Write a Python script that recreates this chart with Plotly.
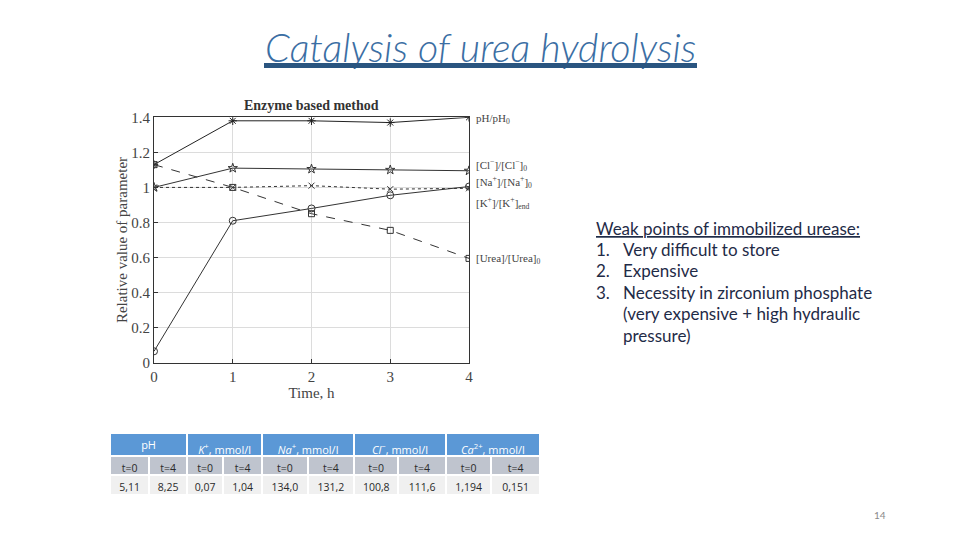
import plotly.graph_objects as go

# ---------------- data ----------------
time_h = [0, 1, 2, 3, 4]
ph_rel = [1.13, 1.38, 1.38, 1.37, 1.40]
cl_rel = [1.00, 1.11, 1.105, 1.10, 1.095]
na_rel = [1.00, 1.00, 1.01, 0.99, 0.995]
k_rel = [0.065, 0.81, 0.88, 0.955, 1.005]
urea_rel = [1.13, 1.00, 0.85, 0.755, 0.595]

series_names = ["pH/pH<sub>0</sub>", "[Cl<sup>−</sup>]/[Cl<sup>−</sup>]<sub>0</sub>",
                "[Na<sup>+</sup>]/[Na<sup>+</sup>]<sub>0</sub>", "[K<sup>+</sup>]/[K<sup>+</sup>]<sub>end</sub>",
                "[Urea]/[Urea]<sub>0</sub>"]
label_y = [1.39, 1.13, 1.03, 0.913, 0.59]

table_groups = ["pH", "<i>K</i><sup>+</sup>, mmol/l", "<i>Na</i><sup>+</sup>, mmol/l",
                "<i>Cl</i><sup>−</sup>, mmol/l", "<i>Ca</i><sup>2+</sup>, mmol/l"]
table_times = ["t=0", "t=4"] * 5
table_values = ["5,11", "8,25", "0,07", "1,04", "134,0", "131,2", "100,8", "111,6", "1,194", "0,151"]

slide_title = "Catalysis of urea hydrolysis"
weak_title = "Weak points of immobilized urease:"
weak_lines = ["Very difficult to store", "Expensive", "Necessity in zirconium phosphate",
              "(very expensive + high hydraulic", "pressure)"]
weak_nums = ["1.", "2.", "3.", "", ""]

# ---------------- figure ----------------
W, H = 960, 540
OFF = 8  # page body margin offset
def px(x):
    return (x - OFF) / W
def py(y):
    return 1 - (y - OFF) / H

fig = go.Figure()
c1 = "#222222"
c2 = "#333333"
fig.add_trace(go.Scatter(x=time_h, y=ph_rel, mode="lines+markers",
                         line=dict(color=c1, width=1),
                         marker=dict(symbol="asterisk-open", size=7, color=c1, line=dict(width=1, color=c1))))
fig.add_trace(go.Scatter(x=time_h, y=cl_rel, mode="lines+markers",
                         line=dict(color=c2, width=1),
                         marker=dict(symbol="star-open", size=7, color=c2, line=dict(width=1, color=c2))))
fig.add_trace(go.Scatter(x=time_h, y=na_rel, mode="lines+markers",
                         line=dict(color=c2, width=1, dash="dot"),
                         marker=dict(symbol="x-thin-open", size=6, color=c2, line=dict(width=1, color=c2))))
fig.add_trace(go.Scatter(x=time_h, y=k_rel, mode="lines+markers",
                         line=dict(color=c2, width=1),
                         marker=dict(symbol="circle-open", size=7, color=c2, line=dict(width=1, color=c2))))
fig.add_trace(go.Scatter(x=time_h, y=urea_rel, mode="lines+markers",
                         line=dict(color=c2, width=1, dash="dash"),
                         marker=dict(symbol="square-open", size=6, color=c2, line=dict(width=1, color=c2))))

serif = "Liberation Serif"
axcol = "#444444"
fig.update_xaxes(domain=[px(154), px(469)], range=[0, 4], tickvals=time_h, automargin=False,
                 showgrid=True, gridcolor="#dcdcdc", gridwidth=1, zeroline=False,
                 showline=True, linecolor="#333333", linewidth=1, mirror=True,
                 ticks="inside", ticklen=4, tickcolor="#333333",
                 tickfont=dict(family=serif, size=15, color=axcol),
                 title=dict(text="Time, h", font=dict(family=serif, size=15, color=axcol), standoff=3))
fig.update_yaxes(domain=[py(362.7), py(117.3)], range=[0, 1.4], automargin=False,
                 tickvals=[0, 0.2, 0.4, 0.6, 0.8, 1.0, 1.2, 1.4],
                 ticktext=["0", "0.2", "0.4", "0.6", "0.8", "1", "1.2", "1.4"],
                 showgrid=True, gridcolor="#dcdcdc", gridwidth=1, zeroline=False,
                 showline=True, linecolor="#333333", linewidth=1, mirror=True,
                 ticks="inside", ticklen=4, tickcolor="#333333",
                 tickfont=dict(family=serif, size=15, color=axcol),
                 title=dict(text="Relative value of parameter", font=dict(family=serif, size=15, color=axcol), standoff=0))

annotations = []
annotations.append(dict(text="<b>Enzyme based method</b>", x=2, xref="x", y=py(106), yref="paper",
                        yanchor="middle", showarrow=False, font=dict(family=serif, size=14, color="#333333")))
for name, ly in zip(series_names, label_y):
    annotations.append(dict(text=name, x=4, xref="x", y=ly, yref="y", xanchor="left", yanchor="middle", xshift=5,
                            showarrow=False, font=dict(family=serif, size=11, color="#444444")))

annotations.append(dict(text=slide_title, x=px(480), xref="paper", y=py(46), yref="paper",
                        xanchor="center", yanchor="middle",
                        showarrow=False, font=dict(family="Lato", size=39.5, color="#3b6ea3", style="italic",
                                                   weight=300)))
# title underline bar (drawn as an annotation box so it sits over the descenders)
annotations.append(dict(text="", x=px(264), xref="paper", y=py(63), yref="paper", xanchor="left", yanchor="top",
                        width=433, height=5, bgcolor="#2a5580", borderpad=0, borderwidth=0, showarrow=False))

txt_col = "#1f2b47"
fnt = dict(family="Lato", size=17, color=txt_col)
annotations.append(dict(text="<u>" + weak_title + "</u>", x=px(594), xref="paper", y=py(228), yref="paper",
                        xanchor="left", yanchor="middle", showarrow=False, font=fnt))
line_ys = [249, 270, 292, 313, 335]
for n, t, yy in zip(weak_nums, weak_lines, line_ys):
    if n:
        annotations.append(dict(text=n, x=px(594), xref="paper", y=py(yy), yref="paper",
                                xanchor="left", yanchor="middle", showarrow=False, font=fnt))
    annotations.append(dict(text=t, x=px(621), xref="paper", y=py(yy), yref="paper",
                            xanchor="left", yanchor="middle", showarrow=False, font=fnt))

annotations.append(dict(text="14", x=px(880), xref="paper", y=py(515), yref="paper",
                        xanchor="center", yanchor="middle",
                        showarrow=False, font=dict(family="Lato", size=10, color="#8a8a8a")))

# tables: three header-only rows
sub_widths = [37, 36, 34, 37, 43, 44, 42, 45, 43, 46]
grp_widths = [sub_widths[i] + sub_widths[i + 1] for i in range(0, 10, 2)]
tfont = "Open Sans"
fig.add_trace(go.Table(
    domain=dict(x=[px(110), px(540)], y=[py(456), py(433)]),
    columnwidth=grp_widths,
    header=dict(values=table_groups, fill_color="#5b98d6", line=dict(color="white", width=2),
                font=dict(family=tfont, size=11, color="white"), height=22, align="center"),
    cells=dict(values=[])))
fig.add_trace(go.Table(
    domain=dict(x=[px(110), px(540)], y=[py(475), py(456)]),
    columnwidth=sub_widths,
    header=dict(values=table_times, fill_color="#bfc4ce", line=dict(color="white", width=2),
                font=dict(family=tfont, size=10.5, color="#2a2a2a"), height=19, align="center"),
    cells=dict(values=[])))
fig.add_trace(go.Table(
    domain=dict(x=[px(110), px(540)], y=[py(496), py(475)]),
    columnwidth=sub_widths,
    header=dict(values=table_values, fill_color="#f0f0f0", line=dict(color="white", width=2),
                font=dict(family=tfont, size=10.5, color="#2a2a2a"), height=20, align="center"),
    cells=dict(values=[])))

fig.update_layout(
    width=W, height=H, margin=dict(l=0, r=0, t=0, b=0, autoexpand=False),
    paper_bgcolor="white", plot_bgcolor="white", showlegend=False,
    annotations=annotations,
)

fig.write_html("out.html")
